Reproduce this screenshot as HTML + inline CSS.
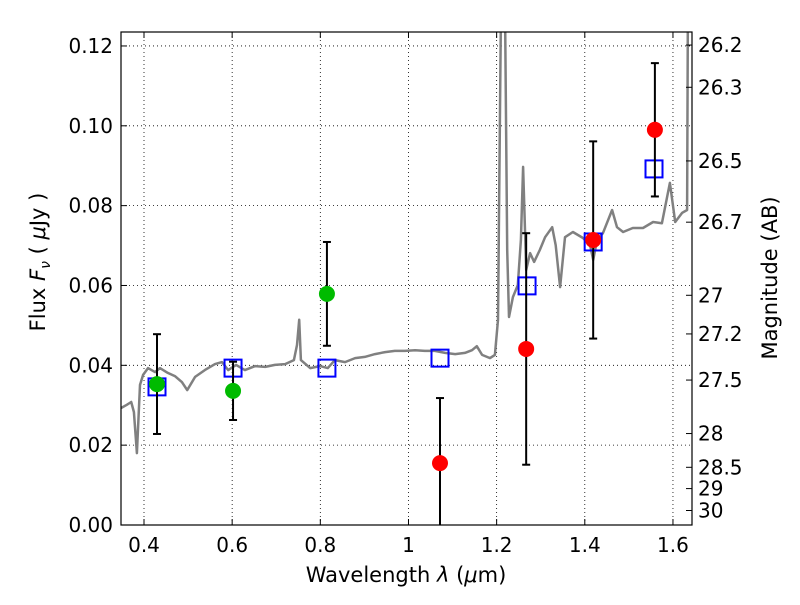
<!DOCTYPE html>
<html><head><meta charset="utf-8"><style>
html,body{margin:0;padding:0;background:#fff;}
svg text{font-family:"DejaVu Sans","Liberation Sans",sans-serif;}
</style></head><body>
<svg id="chart" width="800" height="600" viewBox="0 0 800 600" xmlns="http://www.w3.org/2000/svg">
<rect x="0" y="0" width="800" height="600" fill="#fff"/>
<g id="grid"></g>
<g id="plot"></g>
<g id="axes"></g>
</svg>
<script>
const specLam=[0.348,0.361,0.371,0.377,0.384,0.391,0.398,0.409,0.425,0.436,0.454,0.470,0.486,0.498,0.516,0.538,0.561,0.577,0.591,0.609,0.629,0.652,0.675,0.697,0.720,0.740,0.747,0.752,0.756,0.777,0.799,0.817,0.833,0.856,0.879,0.901,0.924,0.947,0.969,0.992,1.015,1.037,1.060,1.083,1.106,1.128,1.144,1.155,1.167,1.185,1.196,1.203,1.210,1.219,1.224,1.228,1.237,1.248,1.255,1.260,1.267,1.276,1.285,1.298,1.310,1.326,1.334,1.344,1.355,1.373,1.396,1.412,1.419,1.428,1.441,1.462,1.473,1.487,1.509,1.532,1.555,1.575,1.593,1.605,1.621,1.632,1.634];
const specFlux=[0.0293,0.0301,0.0308,0.0283,0.018,0.0351,0.0376,0.0393,0.0383,0.0393,0.0381,0.0373,0.0358,0.0338,0.0371,0.0388,0.0403,0.0408,0.0388,0.0401,0.0388,0.0398,0.0396,0.0401,0.0403,0.0413,0.0451,0.0514,0.0413,0.0393,0.0398,0.0393,0.0413,0.0408,0.0418,0.0421,0.0428,0.0433,0.0436,0.0436,0.0438,0.0436,0.0436,0.0431,0.0428,0.0431,0.0438,0.0448,0.0426,0.0418,0.0426,0.0514,0.13,0.13,0.0689,0.0521,0.0571,0.0601,0.0714,0.0897,0.0639,0.0681,0.0659,0.0689,0.0721,0.0746,0.0701,0.0596,0.0721,0.0734,0.0719,0.0701,0.0664,0.0714,0.0731,0.0789,0.0746,0.0734,0.0744,0.0744,0.0759,0.0756,0.0857,0.0759,0.0782,0.0789,0.13];
const redLam=[1.0715,1.267,1.419,1.559];
const redFlux=[0.0155,0.0441,0.0714,0.0990];
const redErr=[0.0163,0.029,0.0247,0.0167];
const greenLam=[0.4295,0.602,0.815];
const greenFlux=[0.0353,0.0336,0.0579];
const greenErr=[0.0125,0.0073,0.013];
const blueLam=[0.4295,0.602,0.815,1.0715,1.269,1.419,1.557];
const blueFlux=[0.0346,0.0393,0.0393,0.0418,0.0599,0.0709,0.0892];
const xTicks=[0.4,0.6,0.8,1.0,1.2,1.4,1.6];
const xTickLabels=["0.4","0.6","0.8","1","1.2","1.4","1.6"];
const yTicks=[0,0.02,0.04,0.06,0.08,0.10,0.12];
const yTickLabels=["0.00","0.02","0.04","0.06","0.08","0.10","0.12"];
const magTicks=[26.2,26.3,26.5,26.7,27,27.2,27.5,28,28.5,29,30];
const magTickLabels=["26.2","26.3","26.5","26.7","27","27.2","27.5","28","28.5","29","30"];

const L=121,R=692,T=32,B=525;
const X0=0.35,X1=0.3+ (R-144)/440.8 + 0.05 + 0.0;
function xs(v){return 144+(v-0.4)*440.8;}
function ys(v){return 525-v*3992;}
const NS="http://www.w3.org/2000/svg";
function mk(tag,attrs,parent){const e=document.createElementNS(NS,tag);for(const k in attrs)e.setAttribute(k,attrs[k]);parent.appendChild(e);return e;}
const svg=document.getElementById('chart');
const grid=document.getElementById('grid'),plot=document.getElementById('plot'),axes=document.getElementById('axes');
// clip
const defs=mk('defs',{},svg);
const cp=mk('clipPath',{id:'clip'},defs);
mk('rect',{x:L,y:T,width:R-L,height:B-T},cp);
plot.setAttribute('clip-path','url(#clip)');

xTicks.forEach((v,i)=>{
  const g=mk('line',{x1:xs(v),x2:xs(v),y1:T,y2:B,stroke:'#000','stroke-width':0.8,'stroke-dasharray':'1,3'},grid);
  
  
  mk('line',{x1:xs(v),x2:xs(v),y1:B,y2:B-6,stroke:'#000','stroke-width':1},axes);
  mk('line',{x1:xs(v),x2:xs(v),y1:T,y2:T+6,stroke:'#000','stroke-width':1},axes);
  const t=mk('text',{x:xs(v),y:B+27,'text-anchor':'middle','font-size':20},axes);
  t.textContent=xTickLabels[i];
  
  
});
yTicks.forEach((v,i)=>{
  const g=mk('line',{x1:L,x2:R,y1:ys(v),y2:ys(v),stroke:'#000','stroke-width':0.8,'stroke-dasharray':'1,3'},grid);
  
  
  mk('line',{x1:L,x2:L+6,y1:ys(v),y2:ys(v),stroke:'#000','stroke-width':1},axes);
  const t=mk('text',{x:L-8,y:ys(v)+7,'text-anchor':'end','font-size':20},axes);
  t.textContent=yTickLabels[i];
  
  
});
magTicks.forEach((m,i)=>{
  const f=Math.pow(10,(23.9-m)/2.5);
  const y=ys(f);
  mk('line',{x1:R,x2:R-6,y1:y,y2:y,stroke:'#000','stroke-width':1},axes);
  const t=mk('text',{x:R+6,y:y+7,'font-size':20},axes);
  t.textContent=magTickLabels[i];
  
  
});
// spectrum
let d='';
specLam.forEach((l,i)=>{d+=(i?'L':'M')+xs(l).toFixed(1)+','+ys(specFlux[i]).toFixed(1);});
const sp=mk('path',{d:d,fill:'none',stroke:'#808080','stroke-width':2.5,'stroke-linejoin':'round'},plot);


// blue squares
blueLam.forEach((l,i)=>{
  const s=mk('rect',{x:xs(l)-8.5,y:ys(blueFlux[i])-8.5,width:17,height:17,fill:'none',stroke:'#0000ff','stroke-width':2},plot);
  
  
});
function errs(lams,fl,er,color,name){
  lams.forEach((l,i)=>{
    const x=xs(l),y1=ys(fl[i]+er[i]),y2=ys(fl[i]-er[i]);
    const g=mk('g',{},plot);
    
    
    mk('line',{x1:x,x2:x,y1:y1,y2:y2,stroke:'#000','stroke-width':2},g);
    mk('line',{x1:x-4,x2:x+4,y1:y1,y2:y1,stroke:'#000','stroke-width':2},g);
    mk('line',{x1:x-4,x2:x+4,y1:y2,y2:y2,stroke:'#000','stroke-width':2},g);
    const c=mk('circle',{cx:x,cy:ys(fl[i]),r:8,fill:color},plot);
    
    
  });
}
errs(greenLam,greenFlux,greenErr,'#00bb00','green');
errs(redLam,redFlux,redErr,'#ff0000','red');
const fr=mk('rect',{x:L,y:T,width:R-L,height:B-T,fill:'none',stroke:'#000','stroke-width':1.2},axes);


</script>
<svg style="position:absolute;left:0;top:0" width="800" height="600">
<text x="406" y="582" text-anchor="middle" font-size="21" font-family="DejaVu Sans, sans-serif">Wavelength  <tspan font-style="italic">λ</tspan> (<tspan font-style="italic">μ</tspan>m)</text>
<text transform="translate(45,262) rotate(-90)" text-anchor="middle" font-size="21" font-family="DejaVu Sans, sans-serif">Flux  <tspan font-style="italic">F</tspan><tspan font-style="italic" font-size="14" dy="5">ν</tspan><tspan dy="-5">  ( </tspan><tspan font-style="italic">μ</tspan>Jy )</text>
<text transform="translate(777,278) rotate(-90)" text-anchor="middle" font-size="21" font-family="DejaVu Sans, sans-serif">Magnitude (AB)</text>
</svg>
</body></html>
